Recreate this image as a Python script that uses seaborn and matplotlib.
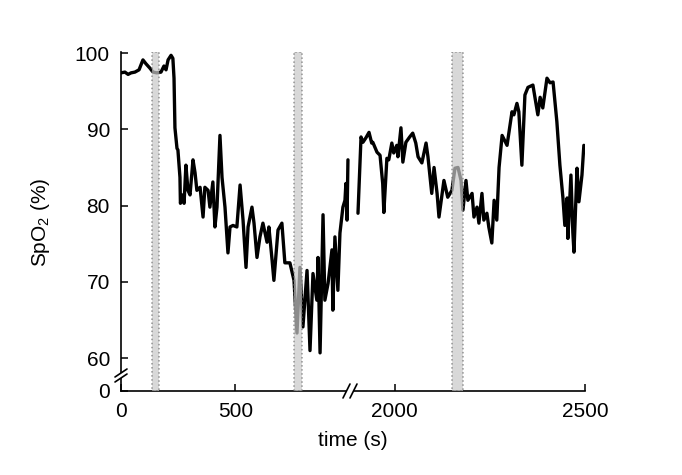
import numpy as np
import pandas as pd
import seaborn as sns
import matplotlib.pyplot as plt
from matplotlib.patches import Polygon

# SpO2 trace, left part of the broken time axis (s, %)
t_left = [0, 17, 31, 44, 61, 79, 96, 109, 127, 140, 157, 175, 188, 197, 206, 219, 227, 232,
          236, 245, 249, 258, 260, 271, 276, 284, 293, 302, 315, 324, 332, 346, 359, 367,
          381, 389, 402, 411, 420, 433, 442, 455, 468, 477, 490, 507, 521, 534, 547, 556,
          573, 582, 595, 608, 621, 639, 647, 661, 669, 687, 704, 717, 739, 757, 770, 783,
          796, 814, 827, 840, 857, 862, 871, 884, 892, 906, 923, 927, 936, 949, 958, 971,
          980, 984, 989, 993]
spo2_left = [97.4, 97.5, 97.2, 97.4, 97.5, 97.8, 99.1, 98.6, 98.0, 97.5, 97.4, 97.5, 98.3,
             97.8, 99.1, 99.7, 99.3, 96.7, 90.2, 87.5, 87.3, 83.7, 80.3, 81.4, 80.3, 85.3,
             82.0, 81.4, 86.0, 84.3, 82.0, 82.4, 78.5, 82.4, 82.0, 79.8, 83.1, 77.2, 79.8,
             89.2, 83.7, 79.8, 73.8, 77.2, 77.4, 77.2, 82.7, 78.1, 71.9, 77.2, 79.8, 77.7,
             73.2, 75.9, 77.7, 75.2, 77.2, 72.9, 70.2, 76.8, 77.7, 72.5, 72.5, 70.2, 63.3,
             71.9, 64.1, 71.5, 61.0, 71.1, 67.6, 73.2, 60.7, 78.8, 67.6, 69.8, 74.2, 66.3,
             75.9, 68.9, 76.4, 79.8, 80.7, 82.9, 78.1, 86.0]

# right part of the broken time axis
t_right = [1903, 1911, 1916, 1924, 1932, 1939, 1942, 1953, 1961, 1968, 1971, 1979, 1984,
           1992, 1997, 2005, 2008, 2016, 2021, 2029, 2039, 2047, 2055, 2061, 2071, 2082,
           2087, 2097, 2103, 2111, 2116, 2129, 2139, 2150, 2158, 2166, 2174, 2179, 2187,
           2192, 2203, 2208, 2216, 2221, 2229, 2234, 2242, 2247, 2255, 2261, 2268, 2274,
           2282, 2295, 2308, 2313, 2321, 2326, 2334, 2342, 2350, 2363, 2376, 2382, 2389,
           2400, 2408, 2416, 2426, 2434, 2442, 2447, 2453, 2455, 2463, 2468, 2471, 2479,
           2484, 2492, 2497]
spo2_right = [79.0, 89.0, 88.3, 88.9, 89.6, 88.2, 88.3, 87.0, 86.6, 82.9, 79.1, 86.2, 86.0,
              88.2, 86.9, 87.9, 86.4, 90.2, 85.7, 88.3, 89.0, 89.5, 88.2, 86.4, 85.6, 88.2,
              86.4, 81.6, 85.0, 81.6, 78.5, 83.3, 81.1, 82.0, 84.9, 85.0, 83.3, 79.4, 83.3,
              80.7, 81.6, 78.5, 79.8, 77.7, 81.6, 78.1, 79.0, 77.2, 75.1, 80.7, 78.1, 85.0,
              89.2, 87.9, 92.3, 91.9, 93.4, 92.3, 85.3, 94.5, 95.5, 95.8, 91.9, 94.2, 92.8,
              96.7, 96.1, 96.2, 91.0, 85.3, 81.0, 77.4, 81.0, 75.7, 84.0, 76.5, 73.9, 84.9,
              80.5, 84.0, 87.9]

# shaded intervals (s)
band_start = [136, 759, 2150]
band_end = [167, 794, 2179]

y_ticks = [60, 70, 80, 90, 100]
y_floor = 55.7   # where the broken y axis shows "0"

sns.set_style("ticks")
plt.rcParams['font.family'] = ['Liberation Sans', 'DejaVu Sans']
plt.rcParams['mathtext.default'] = 'regular'
plt.rcParams['text.color'] = 'black'
plt.rcParams['axes.labelcolor'] = 'black'
plt.rcParams['xtick.color'] = 'black'
plt.rcParams['ytick.color'] = 'black'

W, H = 682, 475
fig = plt.figure(figsize=(W / 100, H / 100), dpi=100)
bot = 1 - 391 / H
hgt = (391 - 51.5) / H
ax1 = fig.add_axes([121 / W, bot, (350 - 121) / W, hgt])
ax2 = fig.add_axes([350 / W, bot, (585 - 350) / W, hgt], sharey=ax1)

df_l = pd.DataFrame({"t": t_left, "spo2": spo2_left})
df_r = pd.DataFrame({"t": t_right, "spo2": spo2_right})
sns.lineplot(data=df_l, x="t", y="spo2", ax=ax1, color="black", lw=2.4, estimator=None)
sns.lineplot(data=df_r, x="t", y="spo2", ax=ax2, color="black", lw=2.4, estimator=None)

for s, e in zip(band_start, band_end):
    ax = ax1 if e < 1500 else ax2
    ax.axvspan(s, e, facecolor="#c8c8c8", alpha=0.7, edgecolor="#6e6e6e",
               linestyle=":", lw=1.1, zorder=3)

ax1.set_xlim(0, 1002)
ax2.set_xlim(1882, 2500)
ax1.set_ylim(y_floor, 100.2)
ax1.set_xticks([0, 500])
ax2.set_xticks([2000, 2500])
ax1.set_yticks([y_floor] + y_ticks)
ax1.set_yticklabels(["0"] + [str(v) for v in y_ticks])

for ax in (ax1, ax2):
    ax.set_xlabel("")
    ax.set_ylabel("")
    ax.tick_params(direction="in", length=5, width=1.1, labelsize=15, pad=8,
                   colors="black", labelcolor="black")
    for sp in ax.spines.values():
        sp.set_linewidth(1.2)
        sp.set_color("black")
    ax.spines["top"].set_visible(False)
    ax.spines["right"].set_visible(False)
ax2.spines["left"].set_visible(False)
ax2.tick_params(axis="y", left=False, labelleft=False)

fig.text(353 / W, 1 - 441 / H, "time (s)", ha="center", va="center", fontsize=15,
         color="black")
fig.text(40 / W, 1 - 222 / H, "SpO$_2$ (%)", ha="center", va="center",
         rotation=90, fontsize=15, color="black")


def fpt(px, py):
    return (px / W, 1 - py / H)


# break marks on the x axis
gap = Polygon([fpt(343, 398), fpt(350, 384), fpt(357, 384), fpt(350, 398)],
              closed=True, transform=fig.transFigure, facecolor="white",
              edgecolor="none", zorder=10)
fig.add_artist(gap)
for dx in (0, 7):
    xs, ys = zip(fpt(343 + dx, 398), fpt(350 + dx, 384))
    fig.add_artist(plt.Line2D(xs, ys, transform=fig.transFigure, color="black",
                              lw=1.2, zorder=11))

# break marks on the y axis
gap = Polygon([fpt(115, 377), fpt(127, 369), fpt(127, 374), fpt(115, 382)],
              closed=True, transform=fig.transFigure, facecolor="white",
              edgecolor="none", zorder=10)
fig.add_artist(gap)
for dy in (0, 5):
    xs, ys = zip(fpt(115, 377 + dy), fpt(127, 369 + dy))
    fig.add_artist(plt.Line2D(xs, ys, transform=fig.transFigure, color="black",
                              lw=1.2, zorder=11))

plt.savefig("out.png", dpi=100)
